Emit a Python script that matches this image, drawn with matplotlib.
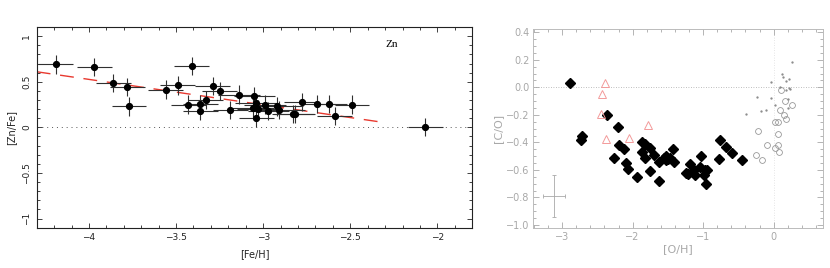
import matplotlib

matplotlib.use("Agg")

import matplotlib.pyplot as plt
from matplotlib.ticker import MultipleLocator

# left panel: [Zn/Fe] vs [Fe/H]
feh = [-4.19, -3.97, -3.86, -3.78, -3.77, -3.56, -3.49, -3.41, -3.43, -3.36,
       -3.33, -3.36, -3.29, -3.25, -3.19, -3.14, -3.05, -3.06, -3.04, -3.03,
       -3.04, -2.99, -2.97, -2.92, -2.91, -2.83, -2.82, -2.78, -2.69, -2.62,
       -2.59, -2.49, -2.07]
znfe = [0.69, 0.66, 0.49, 0.44, 0.23, 0.415, 0.46, 0.67, 0.25, 0.26,
        0.30, 0.18, 0.45, 0.40, 0.19, 0.36, 0.34, 0.21, 0.27, 0.20,
        0.10, 0.25, 0.18, 0.23, 0.19, 0.15, 0.15, 0.28, 0.26, 0.26,
        0.125, 0.25, 0.0]
feh_err = [0.1, 0.1, 0.1, 0.1, 0.1, 0.1, 0.1, 0.1, 0.1, 0.1,
           0.1, 0.1, 0.1, 0.1, 0.1, 0.12, 0.12, 0.12, 0.12, 0.12,
           0.1, 0.12, 0.12, 0.15, 0.15, 0.12, 0.12, 0.1, 0.1, 0.1,
           0.1, 0.1, 0.1]
znfe_err = [0.1] * 33
fit_coef = (-0.59, -0.279)   # intercept, slope
fit_range = (-4.3, -2.33)

# right panel: [C/O] vs [O/H]
dia_oh = [-2.886, -2.72, -2.734, -2.369, -2.26, -2.212, -2.198, -2.122, -2.093, -2.06,
          -1.94, -1.866, -1.861, -1.82, -1.818, -1.756, -1.76, -1.695, -1.62, -1.633,
          -1.553, -1.52, -1.496, -1.53, -1.47, -1.424, -1.41, -1.244, -1.187, -1.22,
          -1.13, -1.116, -1.04, -1.035, -0.988, -0.96, -0.94, -0.973, -0.76, -0.774,
          -0.679, -0.584, -0.451]
dia_co = [0.03, -0.35, -0.38, -0.2, -0.51, -0.29, -0.42, -0.45, -0.55, -0.59,
          -0.65, -0.47, -0.40, -0.41, -0.51, -0.44, -0.61, -0.49, -0.68, -0.54,
          -0.51, -0.50, -0.52, -0.53, -0.51, -0.45, -0.54, -0.62, -0.56, -0.63,
          -0.60, -0.64, -0.58, -0.50, -0.64, -0.70, -0.60, -0.60, -0.385, -0.52,
          -0.43, -0.48, -0.53]
tri_oh = [-2.397, -2.435, -2.445, -2.383, -2.05, -1.785]
tri_co = [0.034, -0.046, -0.19, -0.375, -0.37, -0.277]
circ_oh = [0.157, 0.266, 0.091, 0.152, 0.171, 0.014, 0.062, -0.222, 0.062, -0.09,
           0.062, 0.014, 0.076, -0.25, -0.17, 0.105]
circ_co = [-0.10, -0.13, -0.168, -0.20, -0.23, -0.25, -0.25, -0.32, -0.34, -0.42,
           -0.42, -0.44, -0.47, -0.49, -0.53, -0.02]
dot_oh = [0.262, 0.12, 0.128, -0.043, 0.181, 0.224, 0.095, 0.171, 0.219, 0.238,
          -0.242, -0.043, 0.205, 0.024, -0.104, -0.185, -0.393, 0.20]
dot_co = [0.187, 0.097, 0.077, 0.04, 0.046, 0.06, 0.005, -0.02, -0.003, -0.015,
          -0.07, -0.08, -0.088, -0.13, -0.168, -0.175, -0.19, -0.15]
typ_err = (-3.115, -0.79, 0.155, 0.15)   # x, y, xerr, yerr

GRAY = "#a8a8a8"


def minus_fmt(spec):
    return plt.FuncFormatter(lambda v, p: format(v, spec).replace("-", "\u2212"))


def plot_zn(ax):
    ax.axhline(0, color="#555555", lw=0.7, ls=(0, (1, 4)), zorder=1)
    xs = list(fit_range)
    ax.plot(xs, [fit_coef[0] + fit_coef[1] * x for x in xs], color="#e8392f",
            lw=1.0, dashes=(10, 7), zorder=2)
    ax.errorbar(feh, znfe, xerr=feh_err, yerr=znfe_err, fmt="o", ms=4.2,
                color="black", ecolor="#303030", elinewidth=0.8, capsize=0, zorder=3)
    ax.text(0.816, 0.915, "Zn", transform=ax.transAxes, family="Liberation Serif",
            fontsize=8, ha="center", va="center")

    ax.set_xlim(-4.3, -1.8)
    ax.set_ylim(-1.1, 1.1)
    ax.xaxis.set_major_locator(MultipleLocator(0.5))
    ax.xaxis.set_minor_locator(MultipleLocator(0.1))
    ax.yaxis.set_major_locator(MultipleLocator(0.5))
    ax.yaxis.set_minor_locator(MultipleLocator(0.1))
    ax.xaxis.set_major_formatter(minus_fmt("g"))
    ax.yaxis.set_major_formatter(minus_fmt("g"))
    ax.tick_params(which="both", direction="in", top=True, right=True, width=0.6,
                   labelsize=6.5, colors="#222222")
    ax.tick_params(which="major", length=3.5, pad=4)
    ax.tick_params(which="minor", length=2)
    ax.tick_params(axis="y", labelrotation=90)
    for lab in ax.get_yticklabels():
        lab.set_va("center")
    for sp in ax.spines.values():
        sp.set_linewidth(0.8)
        sp.set_color("#222222")
    ax.set_xlabel("[Fe/H]", fontsize=7, labelpad=5, color="#222222")
    ax.set_ylabel("[Zn/Fe]", fontsize=7, labelpad=4, color="#222222")


def plot_co(ax):
    ax.axhline(0, color=GRAY, lw=0.6, ls=(0, (1, 2)), zorder=1)
    ax.axvline(0, color="#dddddd", lw=0.6, ls=(0, (1, 2)), zorder=1)
    ax.errorbar([typ_err[0]], [typ_err[1]], xerr=[typ_err[2]], yerr=[typ_err[3]],
                fmt="none", ecolor=GRAY, elinewidth=0.6, capsize=1.5, capthick=0.6)
    ax.plot(dia_oh, dia_co, "D", ms=5, color="black", mec="black", zorder=3)
    ax.plot(tri_oh, tri_co, "^", ms=5.5, mfc="none", mec="#f39a9a", mew=0.7, zorder=3)
    ax.plot(circ_oh, circ_co, "o", ms=4.2, mfc="none", mec="#999999", mew=0.6, zorder=3)
    ax.plot(dot_oh, dot_co, ".", ms=1.3, color="#888888", zorder=3)

    ax.set_xlim(-3.41, 0.70)
    ax.set_ylim(-1.024, 0.424)
    ax.xaxis.set_major_locator(MultipleLocator(1))
    ax.xaxis.set_minor_locator(MultipleLocator(0.2))
    ax.yaxis.set_major_locator(MultipleLocator(0.2))
    ax.yaxis.set_minor_locator(MultipleLocator(0.05))
    ax.xaxis.set_major_formatter(minus_fmt("g"))
    ax.yaxis.set_major_formatter(minus_fmt(".1f"))
    ax.tick_params(which="both", direction="in", top=True, right=True, width=0.6,
                   labelsize=7, colors=GRAY)
    ax.tick_params(which="major", length=4, pad=2.5)
    ax.tick_params(which="minor", length=2)
    for sp in ax.spines.values():
        sp.set_linewidth(0.7)
        sp.set_color("#bbbbbb")
    ax.set_xlabel("[O/H]", fontsize=8, labelpad=2, color=GRAY)
    ax.set_ylabel("[C/O]", fontsize=8, labelpad=2, color=GRAY)


def main():
    fig = plt.figure(figsize=(8.3, 2.68), dpi=100)
    ax1 = fig.add_axes([0.0442, 0.1504, 0.5248, 0.7487])
    ax2 = fig.add_axes([0.6425, 0.1481, 0.349, 0.7437])
    plot_zn(ax1)
    plot_co(ax2)
    fig.savefig("out.png", dpi=100)
    plt.close(fig)


if __name__ == "__main__":
    main()
